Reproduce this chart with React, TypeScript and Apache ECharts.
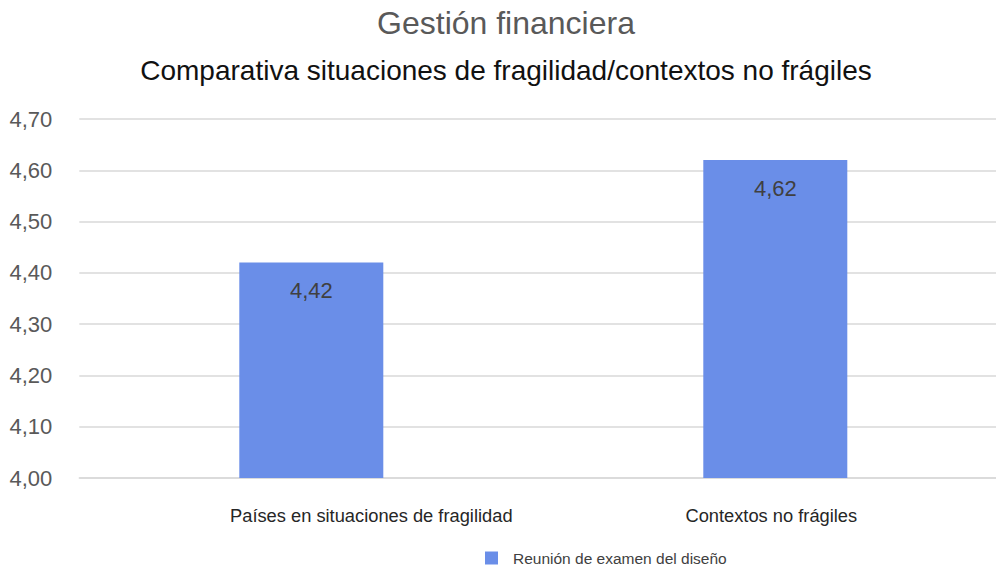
import React, { useEffect, useRef } from "react";
import * as echarts from "echarts";

const categories = ["Países en situaciones de fragilidad", "Contextos no frágiles"];
const seriesName = "Reunión de examen del diseño";
const values = [4.42, 4.62];
const yMin = 4.0;
const yMax = 4.7;
const yStep = 0.1;
const titleText = "Gestión financiera";
const subtitleText = "Comparativa situaciones de fragilidad/contextos no frágiles";

const FONT = "'Liberation Sans', Arial, sans-serif";

export default function App() {
  const ref = useRef<HTMLDivElement>(null);
  useEffect(() => {
    if (!ref.current) return;
    const chart = echarts.init(ref.current, undefined, { renderer: "svg" });
    const fmt = (v: number) => v.toFixed(2).replace(".", ",");
    chart.setOption({
      animation: false,
      textStyle: { fontFamily: FONT },
      title: [
        {
          text: titleText,
          left: "center",
          top: 2,
          padding: [5, 0, 5, 12],
          textStyle: { fontFamily: FONT, fontSize: 32, fontWeight: "normal", color: "#595959" },
        },
        {
          text: subtitleText,
          left: "center",
          top: 51,
          padding: [5, 0, 5, 12],
          textStyle: { fontFamily: FONT, fontSize: 28, fontWeight: "normal", color: "#111111" },
        },
      ],
      legend: {
        left: 480,
        top: 545,
        icon: "rect",
        itemWidth: 13,
        itemHeight: 13,
        itemGap: 10,
        textStyle: { fontFamily: FONT, fontSize: 15.5, color: "#404040", padding: [0, 0, 0, 10] },
        data: [seriesName],
      },
      grid: { left: 79.3, right: 4.7, top: 119, bottom: 90, containLabel: false },
      xAxis: {
        type: "category",
        data: categories,
        axisLine: { show: true, lineStyle: { color: "#d9d9d9", width: 1.5 } },
        axisTick: { show: false },
        axisLabel: {
          fontFamily: FONT,
          fontSize: 18.3,
          color: "#262626",
          margin: 28,
          formatter: (v: string, i: number) => (i === 0 ? `{a|${v}}` : `{b|${v}}`),
          rich: {
            a: { fontFamily: FONT, fontSize: 18.3, color: "#262626", padding: [0, 0, 0, 120] },
            b: { fontFamily: FONT, fontSize: 18.3, color: "#262626", padding: [0, 8, 0, 0] },
          },
        },
      },
      yAxis: {
        type: "value",
        min: yMin,
        max: yMax,
        interval: yStep,
        axisLine: { show: false },
        axisTick: { show: false },
        splitLine: { lineStyle: { color: "#d9d9d9", width: 1.5 } },
        axisLabel: {
          fontFamily: FONT,
          fontSize: 22,
          color: "#595959",
          margin: 27,
          formatter: (v: number) => fmt(v),
        },
      },
      series: [
        {
          name: seriesName,
          type: "bar",
          data: values,
          barWidth: 144,
          itemStyle: { color: "#6a8ee8" },
          label: {
            show: true,
            position: "insideTop",
            distance: 17,
            fontFamily: FONT,
            fontSize: 22,
            color: "#404040",
            formatter: (p: any) => fmt(p.value),
          },
        },
      ],
    });
    return () => chart.dispose();
  }, []);
  return (
    <div style={{ position: "fixed", left: 0, top: 0, width: 996, height: 568, overflow: "hidden", background: "#fff" }}>
      <div ref={ref} style={{ width: 1012, height: 568 }} />
    </div>
  );
}
